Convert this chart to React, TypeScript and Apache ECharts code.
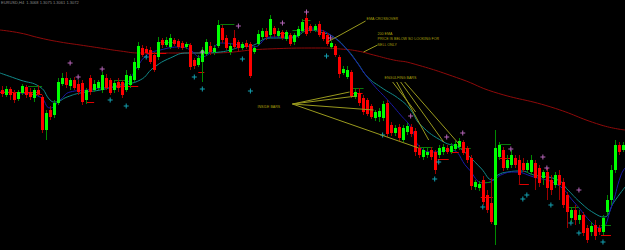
import React, { useEffect, useRef } from "react";
import * as echarts from "echarts";

// Candles: [open, close, low, high]
const candles: number[][] = [
  [160,156,153,164],[155,161,153,164],[161,155,150,163],[157,150,147,160],[151,158,149,160],
  [157,164,155,166],[163,155,152,165],[158,153,150,162],[152,160,148,162],[160,156,154,165],
  [153,120,117,155],[120,137,110,140],[140,133,130,144],[135,147,132,150],[147,168,145,172],
  [166,172,164,177],[172,165,162,178],[164,170,160,172],[170,162,160,173],[166,158,155,170],
  [167,148,145,170],[150,160,146,162],[172,158,155,175],[160,166,158,170],[162,168,160,170],
  [160,175,157,178],[172,162,160,176],[170,157,155,172],[160,167,157,170],[168,162,158,172],
  [168,155,152,170],[160,175,158,180],[165,174,162,176],[170,188,168,192],[182,204,180,208],
  [202,195,193,205],[201,197,196,204],[200,188,186,203],[195,180,178,198],[193,208,190,213],
  [210,205,202,212],[205,210,203,213],[203,212,201,216],[210,206,204,212],[209,203,201,211],
  [207,202,200,209],[203,206,201,208],[205,183,180,207],[190,184,181,192],[185,192,183,195],
  [188,200,168,203],[196,208,194,211],[204,198,195,208],[198,202,195,205],[204,225,202,230],
  [222,210,207,225],[212,202,200,215],[198,204,195,207],[212,203,201,220],[208,202,198,210],
  [202,206,200,208],[207,203,201,210],[206,174,172,208],[198,202,196,204],[206,216,204,220],
  [213,219,210,222],[219,213,210,222],[215,231,212,235],[222,216,213,224],[214,219,212,222],
  [218,212,210,220],[211,218,209,220],[215,206,204,217],[208,215,205,217],[214,221,212,224],
  [219,228,217,231],[232,216,214,236],[224,219,217,226],[220,224,218,226],[226,215,213,229],
  [218,211,209,220],[215,206,204,217],[203,207,201,209],[204,195,193,206],[193,176,172,195],
  [177,181,175,184],[173,180,171,184],[178,154,152,180],[153,158,151,161],[157,147,144,162],
  [152,138,135,155],[150,136,134,152],[144,133,131,146],[132,138,129,140],[133,139,128,142],
  [132,146,129,149],[147,116,113,150],[125,117,114,128],[117,122,114,125],[123,112,109,126],
  [110,122,108,125],[118,124,115,127],[123,116,113,126],[119,98,94,122],[102,95,92,105],
  [93,100,90,102],[95,98,92,102],[100,93,90,103],[98,80,76,100],[95,102,92,105],
  [98,103,95,106],[102,98,96,105],[98,104,96,107],[101,106,99,109],[103,109,100,112],
  [108,97,95,110],[102,90,87,104],[92,64,60,95],[63,68,60,70],[62,66,59,69],
  [70,48,45,74],[55,40,37,60],[47,28,26,72],[25,102,5,120],[93,105,90,108],
  [100,82,79,103],[82,90,80,95],[85,95,82,100],[92,85,82,95],[90,75,65,95],
  [87,80,78,92],[80,87,77,90],[78,90,75,95],[87,72,60,90],[82,67,63,85],
  [72,78,65,80],[78,62,50,82],[70,60,55,75],[65,75,62,78],[75,65,50,80],
  [68,45,42,72],[55,38,22,58],[32,40,28,43],[40,30,25,45],[30,35,26,40],
  [35,17,14,38],[22,10,7,25],[18,24,14,28],[25,14,10,30],[22,18,15,25],
  [18,32,15,35],[38,50,35,55],[50,80,45,85],[80,105,77,110],[105,98,95,108],
  [100,105,98,108],
];

// Slow 200 EMA (dark red)
const ema200Idx = [-0.5, 4.5, 9.5, 14.5, 19.5, 24.5, 29.5, 34.5, 39.5, 52, 66.25, 79.5, 84.5, 88.75, 92.75, 97.75, 102, 114.5, 122.75, 137, 149.5, 155.5];
const ema200Val = [220, 217, 212, 208, 205, 202, 199, 197, 197, 197, 201, 202, 201, 199, 195, 190, 187, 171, 158, 143, 125, 120];

// Medium EMA (teal)
const emaMidIdx = [-0.5, 4.5, 9.5, 12, 13.25, 16.25, 19.5, 24.5, 29.5, 34.5, 37.75, 42, 46.25, 49.5, 54.5, 57, 59.5, 62, 67, 72, 77, 79.5, 82.75, 86.25, 88.75, 91.25, 94.5, 99.5, 102, 104.5, 110.25, 113.75, 116.25, 119.5, 122.5, 123.75, 126.25, 129.5, 132.75, 138.75, 141.25, 144.5, 147.75, 150.25, 152.75, 155.5];
const emaMidVal = [177, 170, 163, 150, 148, 153, 157, 160, 165, 170, 182, 192, 197, 197, 198, 200, 203, 204, 212, 212, 220, 218, 213, 200, 187, 173, 163, 150, 140, 125, 108, 103, 95, 82, 70, 75, 78, 79, 75, 70, 60, 47, 37, 33, 48, 63];

// Fast EMA (dark blue)
const emaFastIdx = [-0.5, 4.5, 9.5, 12, 14.5, 17, 21.25, 24.5, 29.5, 31.25, 33.75, 36.25, 39.5, 44.5, 47, 49.5, 52, 54.5, 59.5, 62.75, 67, 72, 77, 79.5, 81.25, 84.5, 87.75, 90.25, 92.75, 96.25, 99.5, 102, 104.5, 107.75, 112, 116.25, 120.25, 122.75, 124.5, 127.75, 132.75, 138.75, 142.75, 147.75, 149.5, 152, 154.5, 155.5];
const emaFastVal = [158, 157, 153, 142, 150, 158, 160, 162, 163, 167, 183, 195, 200, 203, 200, 193, 197, 207, 205, 203, 213, 213, 222, 220, 217, 207, 192, 178, 165, 150, 135, 123, 102, 98, 100, 82, 67, 70, 75, 78, 73, 65, 48, 25, 22, 42, 75, 82];

// Fractal markers
const upFractalIdx = [17, 19, 25, 50, 59, 70, 76, 82, 102, 111, 115, 127, 135, 136, 144];
const upFractalVal = [187, 173, 181, 198, 224, 227, 238, 212, 134, 113, 117, 101, 93, 82, 60];
const downFractalIdx = [27, 31, 36, 48, 50, 60, 62, 81, 95, 108, 109, 120, 130, 131, 137, 142, 144, 150];
const downFractalVal = [150, 144, 193, 173, 161, 191, 159, 194, 115, 71, 88, 43, 51, 55, 45, 27, 17, 8];

// Horizontal levels: [start, end, value]
const redLevels: number[][] = [
  [-0.5, 9.5, 158], [7, 10, 156], [21, 23, 148], [28, 34, 164], [36, 41, 197], [49, 50.5, 178],
  [69, 71.5, 217], [87, 90, 157], [108.75, 111.5, 91], [112, 114, 98], [119.5, 122.5, 53],
  [124, 127.5, 92], [129, 131.5, 66], [149.5, 152, 15],
];
const greenLevels: number[][] = [
  [6.5, 10, 164], [28, 31, 170], [39.5, 43, 208], [46, 47, 206], [54.5, 58, 226], [72.5, 74.5, 220],
  [75, 77, 230], [87.5, 90.25, 162], [104, 107.5, 103], [114, 117, 102], [119.5, 122, 68],
  [124, 127, 106], [141, 144, 43], [149.5, 152, 25],
];

// Annotations
const noteTexts = ["EMA CROSSOVER", "200 EMA\nPRICE IS BELOW SO LOOKING FOR\nSELL ONLY", "ENGULFING BARS", "INSIDE BARS"];
const noteAnchors: number[][] = [[91, 234], [93.75, 219], [95.5, 175], [63.75, 146]];
const noteLines: number[][][] = [
  [[81.25, 208], [90.75, 229]],
  [[93.75, 205], [90.25, 198]],
  [[97.5, 168], [103.25, 138]],
  [[98.5, 168], [106.5, 110]],
  [[99.5, 168], [110.25, 108]],
  [[100.5, 168], [114.5, 104]],
  [[72.5, 146], [86.75, 158]],
  [[72.5, 146], [88.5, 154]],
  [[72.5, 146], [92.75, 140]],
  [[72.5, 146], [104, 102]],
];

const headerText = "EURUSD,H4  1.3068 1.3075 1.3061 1.3072";

const plusPath = "path://M4 0h2v4h4v2h-4v4h-2v-4h-4v-2h4z";

export default function App() {
  const ref = useRef<HTMLDivElement>(null);
  useEffect(() => {
    if (!ref.current) return;
    const chart = echarts.init(ref.current, undefined, { renderer: "svg" });
    const candleData = candles.map((c, i) => [i, c[0], c[1], c[2], c[3]]);
    const zip = (a: number[], b: number[]) => a.map((v, i) => [v, b[i]]);
    const levelData = (arr: number[][]) => arr.map((l) => ({ coords: [[l[0], l[2]], [l[1], l[2]]] }));

    chart.setOption({
      animation: false,
      backgroundColor: "#000000",
      grid: { left: 0, right: 0, top: 0, bottom: 0 },
      xAxis: { type: "value", min: -0.5, max: 155.5, show: false, splitLine: { show: false } },
      yAxis: { type: "value", min: 0, max: 250, show: false, splitLine: { show: false } },
      graphic: [
        {
          type: "text",
          left: 1,
          top: 0,
          style: { text: headerText, fill: "#8a8a8a", fontSize: 4, fontFamily: "Liberation Sans" },
        },
      ],
      series: [
        {
          type: "line",
          data: zip(ema200Idx, ema200Val),
          smooth: true,
          symbol: "none",
          lineStyle: { color: "#8e0a0a", width: 1 },
          z: 2,
        },
        {
          type: "line",
          data: zip(emaMidIdx, emaMidVal),
          smooth: true,
          symbol: "none",
          lineStyle: { color: "#118a8a", width: 1 },
          z: 2,
        },
        {
          type: "line",
          data: zip(emaFastIdx, emaFastVal),
          smooth: true,
          symbol: "none",
          lineStyle: { color: "#1a1aa8", width: 1 },
          z: 2,
        },
        {
          type: "lines",
          coordinateSystem: "cartesian2d",
          data: levelData(redLevels),
          lineStyle: { color: "#e00000", width: 1, opacity: 1 },
          z: 3,
        },
        {
          type: "lines",
          coordinateSystem: "cartesian2d",
          data: levelData(greenLevels),
          lineStyle: { color: "#0a7a0a", width: 1, opacity: 1 },
          z: 3,
        },
        {
          type: "custom",
          data: candleData,
          z: 4,
          renderItem: (params: any, api: any) => {
            const i = api.value(0);
            const o = api.value(1);
            const c = api.value(2);
            const l = api.value(3);
            const h = api.value(4);
            const pO = api.coord([i, o]);
            const pC = api.coord([i, c]);
            const pL = api.coord([i, l]);
            const pH = api.coord([i, h]);
            const w = 3;
            const up = c >= o;
            const x = Math.round(pO[0]);
            const top = Math.min(pO[1], pC[1]);
            const hgt = Math.max(1, Math.abs(pO[1] - pC[1]));
            return {
              type: "group",
              children: [
                {
                  type: "line",
                  shape: { x1: x + 0.5, y1: pH[1], x2: x + 0.5, y2: pL[1] },
                  style: { stroke: up ? "#008a00" : "#a00000", lineWidth: 1 },
                },
                {
                  type: "rect",
                  shape: { x: x - 1, y: top, width: w, height: hgt },
                  style: { fill: up ? "#00ff00" : "#ff0000" },
                },
              ],
            };
          },
        },
        {
          type: "scatter",
          data: zip(upFractalIdx, upFractalVal),
          symbol: plusPath,
          symbolSize: 5,
          itemStyle: { color: "#e27ee6" },
          z: 5,
        },
        {
          type: "scatter",
          data: zip(downFractalIdx, downFractalVal),
          symbol: plusPath,
          symbolSize: 5,
          itemStyle: { color: "#18c8dc" },
          z: 5,
        },
        {
          type: "lines",
          coordinateSystem: "cartesian2d",
          data: noteLines.map((c) => ({ coords: c })),
          lineStyle: { color: "#9a9a1e", width: 1, opacity: 1 },
          z: 6,
        },
        {
          type: "scatter",
          data: noteAnchors.map((a, i) => ({ value: a, name: noteTexts[i] })),
          symbolSize: 0,
          z: 7,
          label: {
            show: true,
            position: [0, 0],
            align: "left",
            verticalAlign: "top",
            formatter: (p: any) => p.name,
            color: "#d8cc10",
            fontSize: 3.6,
            lineHeight: 5.5,
            fontFamily: "Liberation Sans",
          },
        },
      ],
    });
    return () => chart.dispose();
  }, []);
  return (
    <div
      ref={ref}
      style={{ position: "fixed", left: 0, top: 0, width: 625, height: 250, background: "#000" }}
    />
  );
}
